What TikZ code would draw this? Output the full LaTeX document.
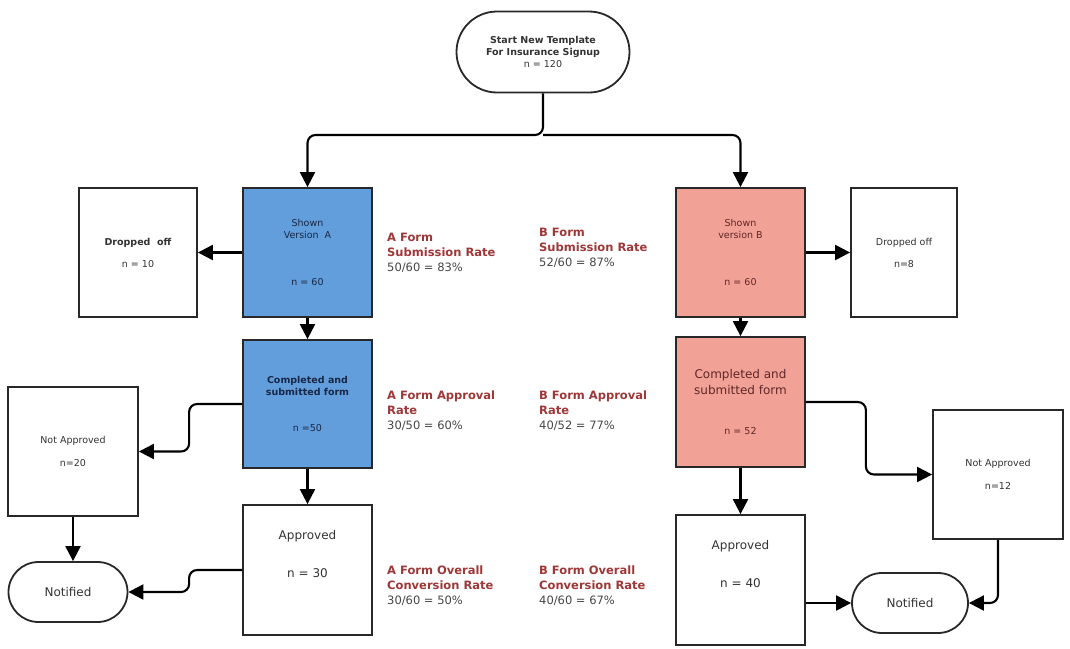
\documentclass[tikz,border=0pt]{standalone}
\usepackage{fontspec}
\setmainfont{DejaVu Sans}
\usepackage{xcolor}
\usetikzlibrary{arrows.meta,shapes.misc}

\definecolor{boxline}{RGB}{40,40,40}
\definecolor{fillA}{RGB}{98,158,220}
\definecolor{fillB}{RGB}{242,161,150}
\definecolor{rateRed}{RGB}{158,55,55}
\definecolor{rateGray}{RGB}{70,70,70}
\definecolor{txtA}{RGB}{25,40,70}
\definecolor{txtB}{RGB}{95,40,40}

\begin{document}
\begin{tikzpicture}[x=1pt,y=-1pt,
  box/.style={draw=boxline,line width=1.8pt,fill=white,inner sep=0pt,align=center,
    text=black!80,font=\fontsize{9.5}{12}\selectfont},
  term/.style={box,rounded rectangle},
  arr/.style={draw=black,line width=2.1pt,-{Triangle[length=15pt,width=15pt]}},
  rate/.style={anchor=north west,align=left,inner sep=0pt,text=rateRed,
    font=\fontsize{11.5}{15}\selectfont}]

\useasboundingbox (0,0) rectangle (1070,648);

% Depart
\node[term,minimum width=173,minimum height=81] (start) at (543,52)
  {\textbf{Start New Template}\\\textbf{For Insurance Signup}\\n = 120};
\coordinate (split) at (543,135);

% Colonne A
\node[box,fill=fillA,text=txtA,minimum width=129,minimum height=129] (shownA) at (307.5,252.5)
  {Shown\\Version~~A\\[35pt]n = 60};
\node[box,minimum width=118,minimum height=129] (dropA) at (138,252.5)
  {\textbf{Dropped~~off}\\[10pt]n = 10};
\node[box,fill=fillA,text=txtA,minimum width=129,minimum height=128] (compA) at (307.5,404)
  {\textbf{Completed and}\\\textbf{submitted form}\\[24pt]n =50};
\node[box,minimum width=130,minimum height=129] (notA) at (73,451.5)
  {Not Approved\\[11pt]n=20};
\node[box,font=\fontsize{12}{15}\selectfont,minimum width=129,minimum height=130] (apprA) at (307.5,570)
  {Approved\\[23pt]n = 30\\[17pt]\phantom{n}};
\node[term,font=\fontsize{12}{15}\selectfont,minimum width=119,minimum height=60] (notifA) at (68,592)
  {Notified};

% Colonne B
\node[box,fill=fillB,text=txtB,minimum width=129,minimum height=129] (shownB) at (740.5,252.5)
  {Shown\\version B\\[35pt]n = 60};
\node[box,minimum width=106,minimum height=129] (dropB) at (904,252.5)
  {Dropped off\\[10pt]n=8};
\node[box,fill=fillB,text=txtB,font=\fontsize{12}{16}\selectfont,minimum width=129,minimum height=130] (compB) at (740.5,402)
  {Completed and\\submitted form\\[24pt]{\fontsize{9.5}{12}\selectfont n = 52}};
\node[box,minimum width=130,minimum height=129] (notB) at (998,474.5)
  {Not Approved\\[11pt]n=12};
\node[box,font=\fontsize{12}{15}\selectfont,minimum width=129,minimum height=130] (apprB) at (740.5,580)
  {Approved\\[23pt]n = 40\\[17pt]\phantom{n}};
\node[term,font=\fontsize{12}{15}\selectfont,minimum width=116,minimum height=60] (notifB) at (910,603)
  {Notified};

% Taux
\node[rate] (subA) at (387,233) {\textbf{A Form}\\\textbf{Submission Rate}\\{\color{rateGray}50/60 = 83\%}};
\node[rate] (subB) at (539,228) {\textbf{B Form}\\\textbf{Submission Rate}\\{\color{rateGray}52/60 = 87\%}};
\node[rate] (aprA) at (387,391) {\textbf{A Form Approval}\\\textbf{Rate}\\{\color{rateGray}30/50 = 60\%}};
\node[rate] (aprB) at (539,391) {\textbf{B Form Approval}\\\textbf{Rate}\\{\color{rateGray}40/52 = 77\%}};
\node[rate] (convA) at (387,566) {\textbf{A Form Overall}\\\textbf{Conversion Rate}\\{\color{rateGray}30/60 = 50\%}};
\node[rate] (convB) at (539,566) {\textbf{B Form Overall}\\\textbf{Conversion Rate}\\{\color{rateGray}40/60 = 67\%}};

% Fleches
\draw[arr,rounded corners=8] (start.south) -- (split) -| (shownA.north);
\draw[arr,rounded corners=8] (split) -| (shownB.north);

\draw[arr] (shownA.west) -- (dropA.east);
\draw[arr] (shownA.south) -- (compA.north);
\draw[arr] (compA.south) -- (apprA.north);
\draw[arr,rounded corners=8] (compA.west) -- ++(-53,0) |- (notA.east);
\draw[arr] (notA.south) -- (notA.south |- notifA.north);
\draw[arr,rounded corners=8] (apprA.west) -- ++(-53,0) |- (notifA.east);

\draw[arr] (shownB.east) -- (dropB.west);
\draw[arr] (shownB.south) -- (compB.north);
\draw[arr] (compB.south) -- (apprB.north);
\draw[arr,rounded corners=8] (compB.east) -- ++(60,0) |- (notB.west);
\draw[arr] (notifB.west -| apprB.east) -- (notifB.west);
\draw[arr,rounded corners=8] (notB.south) |- (notifB.east);

\end{tikzpicture}
\end{document}
